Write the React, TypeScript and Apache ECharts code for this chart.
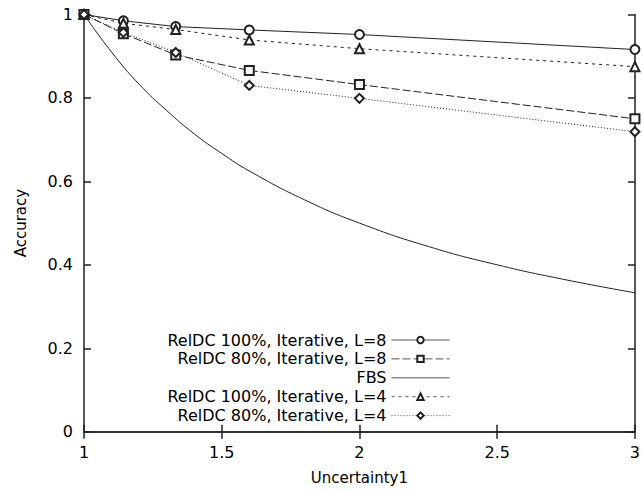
import React, { useEffect, useRef } from "react";
import * as echarts from "echarts";

const xValues = [1, 1.143, 1.333, 1.6, 2, 3];
const relDC100L8 = [1, 0.985, 0.971, 0.963, 0.952, 0.916];
const relDC80L8 = [1, 0.954, 0.903, 0.866, 0.832, 0.75];
const relDC100L4 = [1, 0.979, 0.964, 0.939, 0.918, 0.875];
const relDC80L4 = [1, 0.957, 0.909, 0.83, 0.799, 0.719];

const fbsX = [1, 1.1, 1.2, 1.3, 1.4, 1.5, 1.6, 1.8, 2, 2.25, 2.5, 2.75, 3];
const fbsY = [1, 0.91, 0.833, 0.77, 0.714, 0.667, 0.625, 0.556, 0.5, 0.444, 0.4, 0.364, 0.333];

const seriesNames = [
  "RelDC 100%, Iterative, L=8",
  "RelDC 80%, Iterative, L=8",
  "FBS",
  "RelDC 100%, Iterative, L=4",
  "RelDC 80%, Iterative, L=4",
];

const FONT = "DejaVu Sans";
const INK = "#222";

const pairs = (xs: number[], ys: number[]) => xs.map((x, i) => [x, ys[i]]);

export default function App() {
  const ref = useRef<HTMLDivElement>(null);
  useEffect(() => {
    if (!ref.current) return;
    const chart = echarts.init(ref.current, undefined, { renderer: "svg" });
    const axisLine = { show: true, lineStyle: { color: INK, width: 1.5 } };
    const tick = { show: true, inside: true, length: 7, lineStyle: { color: INK, width: 1.5 } };
    const mk = (
      name: string,
      data: number[][],
      symbol: string,
      type: any,
      smooth = false
    ) => {
      const noMarker = symbol === "none";
      return {
        name,
        type: "line",
        data,
        symbol: noMarker ? "circle" : symbol,
        symbolSize: 9,
        smooth,
        showSymbol: !noMarker,
        lineStyle: { color: INK, width: 1, type },
        itemStyle: noMarker
          ? { color: "rgba(0,0,0,0)" }
          : { color: INK, borderColor: INK, borderWidth: 1 },
        emphasis: { disabled: true },
      };
    };
    chart.setOption({
      animation: false,
      backgroundColor: "#fff",
      textStyle: { fontFamily: FONT },
      grid: { left: 84, right: 4, top: 14.5, bottom: 59.3, containLabel: false },
      legend: {
        data: seriesNames,
        orient: "vertical",
        align: "right",
        right: 193,
        top: 332,
        itemWidth: 58,
        itemHeight: 8,
        itemGap: 2.9,
        padding: 0,
        selectedMode: false,
        lineStyle: { width: 1, color: "#555" },
        textStyle: { fontFamily: FONT, fontSize: 16, color: "#000" },
      },
      xAxis: [
        {
          type: "value",
          min: 1,
          max: 3,
          interval: 0.5,
          position: "bottom",
          axisLine,
          axisTick: tick,
          splitLine: { show: false },
          axisLabel: { color: "#000", fontSize: 16, fontFamily: FONT, margin: 13 },
          name: "Uncertainty1",
          nameLocation: "middle",
          nameGap: 39,
          nameTextStyle: { color: "#000", fontSize: 15, fontFamily: FONT },
        },
        {
          type: "value",
          min: 1,
          max: 3,
          interval: 0.5,
          position: "top",
          axisLine,
          axisTick: tick,
          splitLine: { show: false },
          axisLabel: { show: false },
        },
      ],
      yAxis: [
        {
          type: "value",
          min: 0,
          max: 1,
          interval: 0.2,
          position: "left",
          axisLine,
          axisTick: tick,
          splitLine: { show: false },
          axisLabel: { color: "#000", fontSize: 16, fontFamily: FONT, margin: 11 },
          name: "Accuracy",
          nameLocation: "middle",
          nameGap: 56,
          nameTextStyle: { color: "#000", fontSize: 15, fontFamily: FONT },
        },
        {
          type: "value",
          min: 0,
          max: 1,
          interval: 0.2,
          position: "right",
          axisLine,
          axisTick: tick,
          splitLine: { show: false },
          axisLabel: { show: false },
        },
      ],
      series: [
        mk(seriesNames[0], pairs(xValues, relDC100L8), "emptyCircle", "solid"),
        mk(seriesNames[1], pairs(xValues, relDC80L8), "emptyRect", [8, 3]),
        mk(seriesNames[2], pairs(fbsX, fbsY), "none", "solid", true),
        mk(seriesNames[3], pairs(xValues, relDC100L4), "emptyTriangle", [3, 4]),
        mk(seriesNames[4], pairs(xValues, relDC80L4), "emptyDiamond", [1, 2]),
      ],
    });
    return () => chart.dispose();
  }, []);
  return <div ref={ref} style={{ width: 643, height: 491, position: "absolute", left: 0, top: 0 }} />;
}
